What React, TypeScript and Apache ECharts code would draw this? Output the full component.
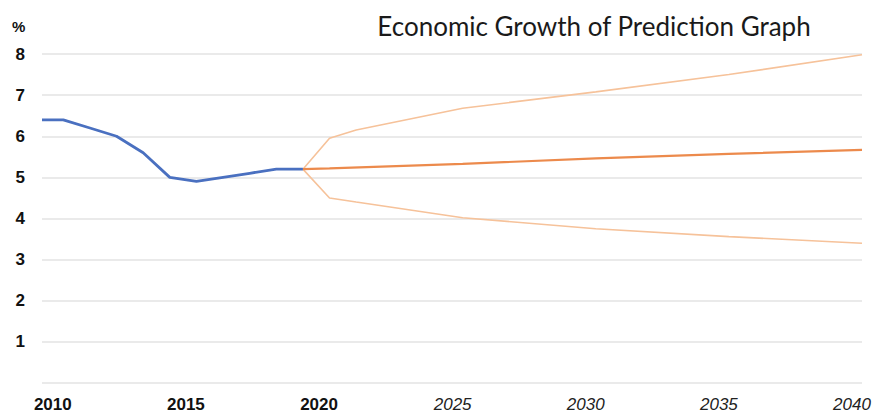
import React, { useEffect, useRef } from "react";
import * as echarts from "echarts";

// Historical growth (%)
const histYears = [2009.2, 2010, 2011, 2012, 2013, 2014, 2015, 2016, 2017, 2018, 2019];
const histValues = [6.4, 6.4, 6.2, 6.0, 5.6, 5.0, 4.9, 5.0, 5.1, 5.2, 5.2];

// Forecast scenarios (%)
const baseYears = [2019, 2020, 2025, 2030, 2035, 2040];
const baseValues = [5.2, 5.22, 5.33, 5.46, 5.57, 5.67];

const highYears = [2019, 2020, 2021, 2025, 2030, 2035, 2040];
const highValues = [5.2, 5.95, 6.15, 6.68, 7.08, 7.5, 7.98];

const lowYears = [2019, 2020, 2021, 2025, 2030, 2035, 2040];
const lowValues = [5.2, 4.5, 4.4, 4.02, 3.75, 3.56, 3.4];

const xTicks = [2010, 2015, 2020, 2025, 2030, 2035, 2040];
const actualTicks = [2010, 2015, 2020];

const title = "Economic Growth of Prediction Graph";

const pairs = (xs: number[], ys: number[]) => xs.map((x, i) => [x, ys[i]]);

const labelFont = "Liberation Sans";

export default function App() {
  const ref = useRef<HTMLDivElement>(null);

  useEffect(() => {
    if (!ref.current) return;
    const chart = echarts.init(ref.current, null, { renderer: "svg" });
    chart.setOption({
      animation: false,
      backgroundColor: "#ffffff",
      title: {
        text: title,
        left: 589,
        top: 8,
        textAlign: "center",
        textStyle: {
          fontFamily: "Lato",
          fontSize: 26,
          fontWeight: "normal",
          color: "#1a1a1a",
        },
      },
      graphic: [
        {
          type: "text",
          left: 12,
          top: 19,
          style: {
            text: "%",
            fontFamily: labelFont,
            fontWeight: "bold",
            fontSize: 15,
            fill: "#111",
          },
        },
      ],
      grid: { left: 42, right: 12, top: 54, bottom: 31 },
      xAxis: {
        type: "value",
        min: 2009.2,
        max: 2040,
        axisLine: { show: false },
        axisTick: { show: false },
        splitLine: { show: false },
        axisLabel: {
          customValues: xTicks,
          margin: 13,
          fontSize: 17,
          fontFamily: labelFont,
          color: "#111",
          formatter: (v: number) => (actualTicks.includes(v) ? `{act|${v}}` : `{fc|${v}}`),
          rich: {
            act: { fontWeight: "bold", fontSize: 17, fontFamily: labelFont, color: "#111", padding: [0, 21, 0, 0] },
            fc: { fontStyle: "italic", fontSize: 17, fontFamily: labelFont, color: "#222", padding: [0, 20, 0, 0] },
          },
        },
      },
      yAxis: {
        type: "value",
        min: 0,
        max: 8,
        interval: 1,
        axisLine: { show: false },
        axisTick: { show: false },
        splitLine: { lineStyle: { color: "#e3e3e3", width: 1.5 } },
        axisLabel: {
          margin: 17,
          fontSize: 17,
          fontWeight: "bold",
          fontFamily: labelFont,
          color: "#111",
          formatter: (v: number) => (v === 0 ? "" : String(v)),
        },
      },
      series: [
        {
          name: "High",
          type: "line",
          data: pairs(highYears, highValues),
          symbol: "none",
          lineStyle: { color: "#f6c29a", width: 1.6 },
          z: 2,
        },
        {
          name: "Low",
          type: "line",
          data: pairs(lowYears, lowValues),
          symbol: "none",
          lineStyle: { color: "#f6c29a", width: 1.6 },
          z: 2,
        },
        {
          name: "Base",
          type: "line",
          data: pairs(baseYears, baseValues),
          symbol: "none",
          lineStyle: { color: "#ec8a4c", width: 2.2 },
          z: 3,
        },
        {
          name: "Actual",
          type: "line",
          data: pairs(histYears, histValues),
          symbol: "none",
          lineStyle: { color: "#4a70c0", width: 2.8 },
          z: 4,
        },
      ],
    });
    return () => chart.dispose();
  }, []);

  return <div ref={ref} style={{ width: 874, height: 414, position: "absolute", left: 0, top: 0 }} />;
}
